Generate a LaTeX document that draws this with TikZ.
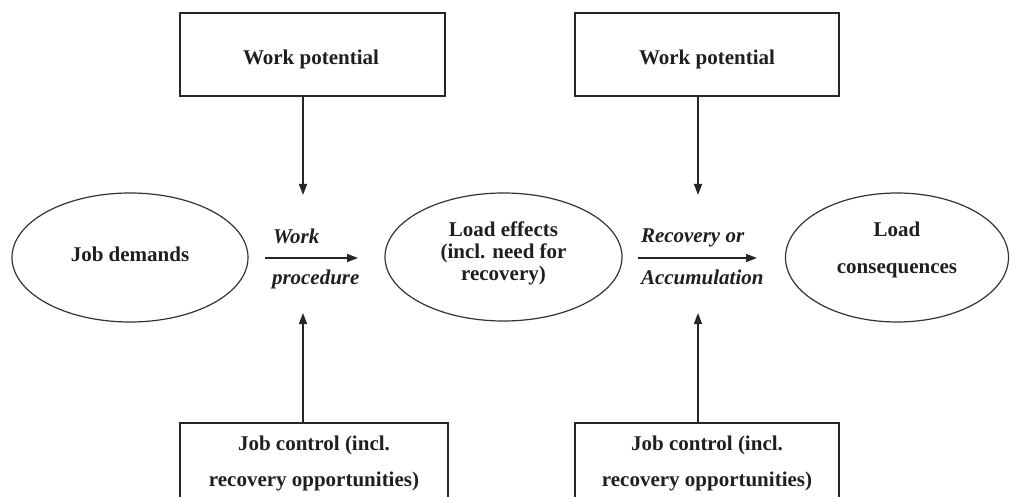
\documentclass[tikz,border=0pt]{standalone}
\usepackage{fontspec}
\setmainfont{Liberation Serif}
\usetikzlibrary{arrows.meta,shapes.geometric}
\begin{document}
\begin{tikzpicture}[x=1pt,y=-1pt,
  every node/.style={inner sep=0pt,outer sep=0pt},
  lbl/.style={font=\fontsize{21}{22}\selectfont\bfseries, text=black!88},
  ilbl/.style={font=\fontsize{21}{22}\selectfont\bfseries\itshape, text=black!88, anchor=base west},
  boxnode/.style={draw=black!85, line width=1.3pt, rectangle},
  ellnode/.style={draw=black!80, line width=1.2pt, ellipse},
  conn/.style={draw=black!85, line width=1.4pt, -{Triangle[length=11pt,width=8pt]}}
]
\useasboundingbox (0,0) rectangle (1010,497);
\clip (0,0) rectangle (1010,497);

% top boxes
\node[boxnode, minimum width=265pt, minimum height=83pt] (wp1) at (312.5,54.5) {};
\node[lbl, anchor=base] at (311,65) {Work potential};
\node[boxnode, minimum width=264pt, minimum height=83pt] (wp2) at (707,54.5) {};
\node[lbl, anchor=base] at (707,65) {Work potential};

% bottom boxes (cut by the page edge)
\node[boxnode, minimum width=268pt, minimum height=120pt] (jc1) at (314,483) {};
\node[lbl, anchor=base] at (314,450) {Job control (incl.};
\node[lbl, anchor=base] at (314,486) {recovery opportunities)};
\node[boxnode, minimum width=264pt, minimum height=120pt] (jc2) at (707,483) {};
\node[lbl, anchor=base] at (707,450) {Job control (incl.};
\node[lbl, anchor=base] at (707,486) {recovery opportunities)};

% ellipses
\node[ellnode, minimum width=236pt, minimum height=129pt] (e1) at (130,257.5) {};
\node[lbl, anchor=base] at (130,262) {Job demands};
\node[ellnode, minimum width=237pt, minimum height=128pt] (e2) at (503.5,257) {};
\node[lbl, anchor=base] at (503.5,237) {Load effects};
\node[lbl, anchor=base] at (503.5,259) {(incl. need for};
\node[lbl, anchor=base] at (503.5,281) {recovery)};
\node[ellnode, minimum width=223pt, minimum height=129pt] (e3) at (897,257.5) {};
\node[lbl, anchor=base] at (897,237) {Load};
\node[lbl, anchor=base] at (897,273) {consequences};

% arrow end coordinates
\coordinate (v1) at (303,195);
\coordinate (u1) at (303,313);
\coordinate (v2) at (698,195);
\coordinate (u2) at (698,313);
\coordinate (h1s) at (265,258);
\coordinate (h1e) at (358,258);
\coordinate (h2s) at (638,258);
\coordinate (h2e) at (757,258);

\draw[conn] (wp1.south -| v1) -- (v1);
\draw[conn] (jc1.north -| u1) -- (u1);
\draw[conn] (wp2.south -| v2) -- (v2);
\draw[conn] (jc2.north -| u2) -- (u2);
\draw[conn] (h1s) -- (h1e);
\draw[conn] (h2s) -- (h2e);

% italic labels
\node[ilbl] (l1a) at (273,244) {Work};
\node[ilbl] (l1b) at (272,284) {procedure};
\node[ilbl] (l2a) at (641,243) {Recovery or};
\node[ilbl] (l2b) at (641,285) {Accumulation};
\end{tikzpicture}
\end{document}
